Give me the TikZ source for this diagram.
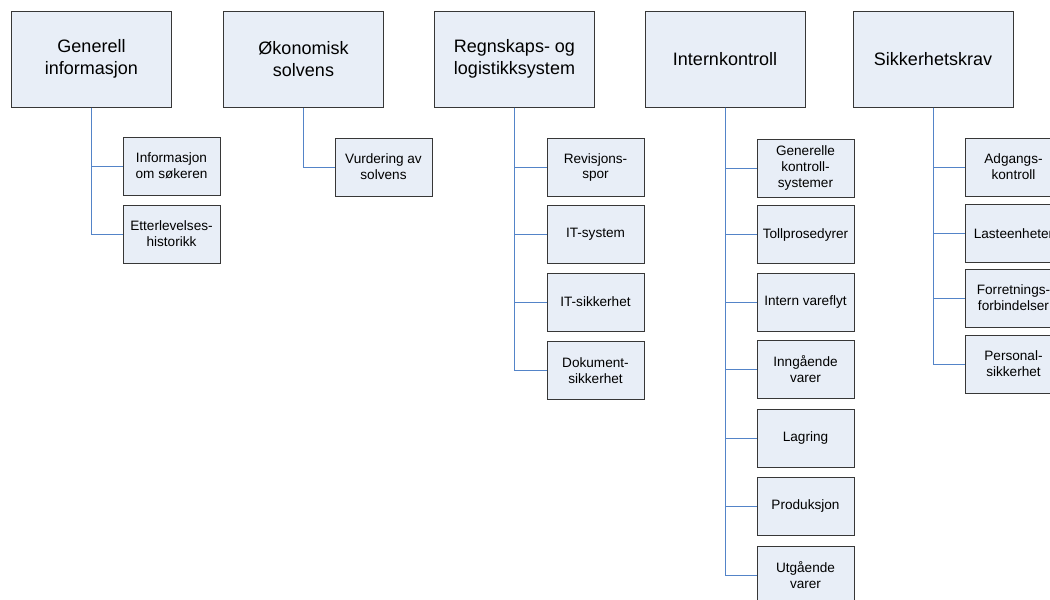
\documentclass[tikz,border=0pt]{standalone}
\usepackage{fontspec}
\setmainfont{Liberation Sans}
\definecolor{boxfill}{RGB}{232,238,247}
\definecolor{boxdraw}{RGB}{55,55,55}
\definecolor{conn}{RGB}{84,132,200}
\tikzset{
  topbox/.style={draw=boxdraw, fill=boxfill, line width=0.75pt, minimum width=120pt, minimum height=72pt, inner sep=0pt, align=center, font=\fontsize{13.5}{16.5}\selectfont},
  subbox/.style={draw=boxdraw, fill=boxfill, line width=0.75pt, minimum width=72.75pt, minimum height=43.5pt, inner sep=0pt, align=center, font=\fontsize{10.2}{11.8}\selectfont},
  link/.style={draw=conn, line width=0.75pt}
}
\begin{document}
\begin{tikzpicture}[x=0.75pt, y=-0.75pt]
\useasboundingbox (0,0) rectangle (1050,600);
\clip (0,0) rectangle (1050,600);
% top boxes
\node[topbox] (t1) at (91.5,59) {Generell\\informasjon};
\node[topbox] (t2) at (303.5,59) {Økonomisk\\solvens};
\node[topbox] (t3) at (514.5,59) {Regnskaps- og\\logistikksystem};
\node[topbox] (t4) at (725,59) {Internkontroll};
\node[topbox] (t5) at (933,59) {Sikkerhetskrav};
% children of t1
\node[subbox] (a1) at (171.5,166) {Informasjon\\om søkeren};
\node[subbox] (a2) at (171.5,234) {Etterlevelses-\\historikk};
% child of t2
\node[subbox] (b1) at (383.5,167) {Vurdering av\\solvens};
% children of t3
\node[subbox] (c1) at (595.5,167.5) {Revisjons-\\spor};
\node[subbox] (c2) at (595.5,234) {IT-system};
\node[subbox] (c3) at (595.5,302) {IT-sikkerhet};
\node[subbox] (c4) at (595.5,370.5) {Dokument-\\sikkerhet};
% children of t4
\node[subbox] (d1) at (805.5,168) {Generelle\\kontroll-\\systemer};
\node[subbox] (d2) at (805.5,234.5) {Tollprosedyrer};
\node[subbox] (d3) at (805.5,302) {Intern vareflyt};
\node[subbox] (d4) at (805.5,369) {Inngående\\varer};
\node[subbox] (d5) at (805.5,438) {Lagring};
\node[subbox] (d6) at (805.5,506) {Produksjon};
\node[subbox] (d7) at (805.5,575) {Utgående\\varer};
% children of t5
\node[subbox] (e1) at (1013.5,167) {Adgangs-\\kontroll};
\node[subbox] (e2) at (1013.5,233.5) {Lasteenheter};
\node[subbox] (e3) at (1013.5,298) {Forretnings-\\forbindelser};
\node[subbox] (e4) at (1013.5,364) {Personal-\\sikkerhet};
% connectors
\foreach \c in {a1,a2} \draw[link] (t1.south) |- (\c.west);
\foreach \c in {b1} \draw[link] (t2.south) |- (\c.west);
\foreach \c in {c1,c2,c3,c4} \draw[link] (t3.south) |- (\c.west);
\foreach \c in {d1,d2,d3,d4,d5,d6,d7} \draw[link] (t4.south) |- (\c.west);
\foreach \c in {e1,e2,e3,e4} \draw[link] (t5.south) |- (\c.west);
\end{tikzpicture}
\end{document}
